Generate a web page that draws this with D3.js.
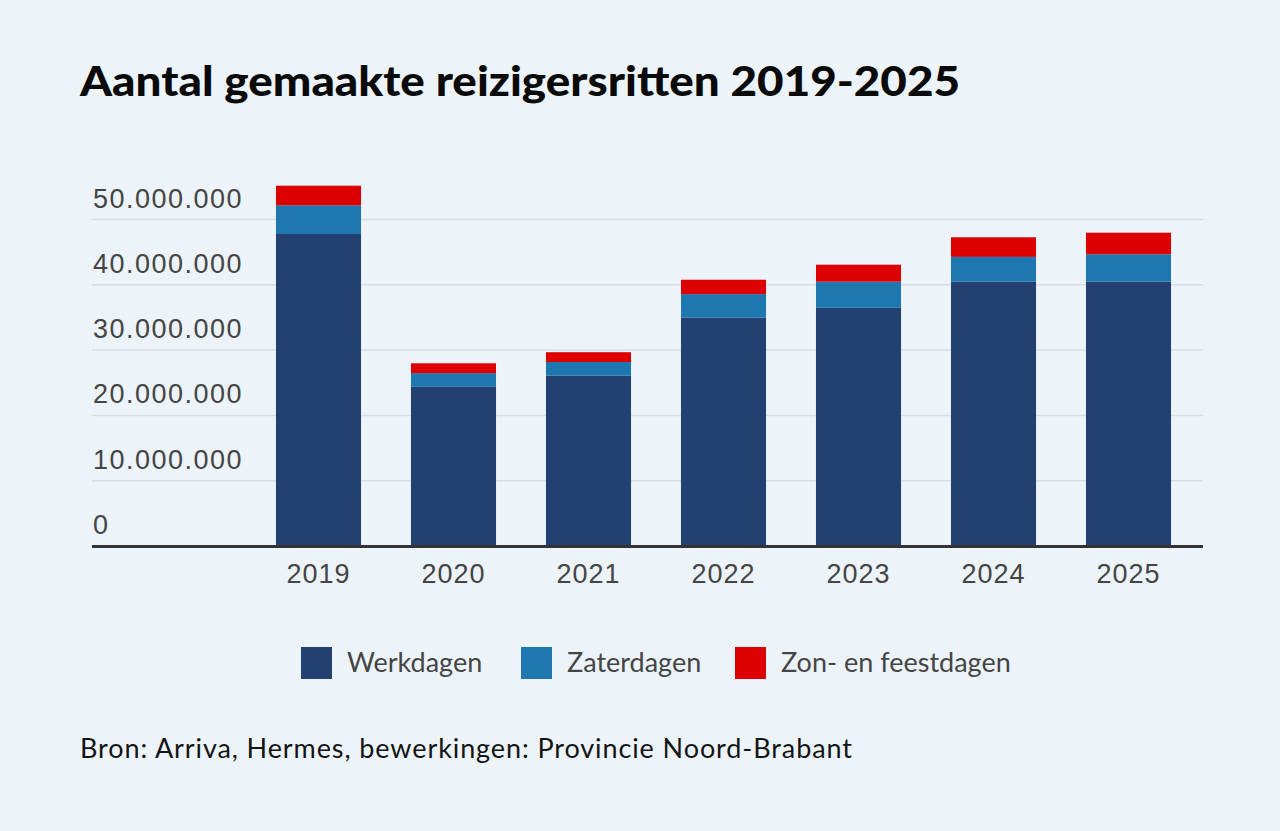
<!DOCTYPE html>
<html>
<head>
<meta charset="utf-8">
<script src="https://cdn.jsdelivr.net/npm/d3@7"></script>
<style>
  html, body { margin: 0; padding: 0; background: #ecf4fa; }
  svg { display: block; font-family: Lato, "Noto Sans", sans-serif; }
  .grid line { stroke: #d6dee6; stroke-width: 1.5; }
  .tick text { fill: #454545; font-size: 27px; }
  .grid .tick text { letter-spacing: 1.5px; }
</style>
</head>
<body>
<div id="chart"></div>
<script>
// data
const years = ['2019', '2020', '2021', '2022', '2023', '2024', '2025'];
const werkdagen = [47700000, 24300000, 26000000, 34900000, 36400000, 40400000, 40400000];
const zaterdagen = [4400000, 2100000, 2100000, 3600000, 4000000, 3800000, 4200000];
const zonFeestdagen = [3000000, 1500000, 1500000, 2200000, 2600000, 3000000, 3300000];
const seriesNames = ['Werkdagen', 'Zaterdagen', 'Zon- en feestdagen'];
const yTicks = [0, 10000000, 20000000, 30000000, 40000000, 50000000];

const width = 1280;
const height = 831;
const gridLeft = 92;
const gridRight = 1203;
const baseY = 545.5;
const topY = 219;
const colors = ['#234170', '#1f77b0', '#dc0000'];

const nl = d3.formatLocale({ decimal: ',', thousands: '.', grouping: [3], currency: ['€', ''] });
const fmt = nl.format(',d');

const rows = years.map((y, i) => ({
    year: y,
    Werkdagen: werkdagen[i],
    Zaterdagen: zaterdagen[i],
    'Zon- en feestdagen': zonFeestdagen[i]
}));
const stacked = d3.stack().keys(seriesNames)(rows);

// scales
const x = d3.scaleBand()
    .domain(years)
    .range([251, 1196])
    .paddingInner(0.37)
    .paddingOuter(0.185);
const y = d3.scaleLinear()
    .domain([0, 50000000])
    .range([baseY, topY]);

const svg = d3.select('#chart').append('svg')
    .attr('width', width)
    .attr('height', height);

svg.append('rect')
    .attr('width', width)
    .attr('height', height)
    .attr('fill', '#ecf4fa');

// title
svg.append('text')
    .attr('x', 80)
    .attr('y', 96)
    .attr('font-size', 41)
    .attr('font-weight', 900)
    .attr('fill', '#0a0a0a')
    .attr('textLength', 880)
    .attr('lengthAdjust', 'spacingAndGlyphs')
    .text('Aantal gemaakte reizigersritten 2019-2025');

// y axis + grid
const yAxis = d3.axisRight(y)
    .tickValues(yTicks)
    .tickSize(gridRight - gridLeft)
    .tickFormat(fmt);
const gy = svg.append('g')
    .attr('class', 'grid')
    .attr('transform', `translate(${gridLeft},0)`)
    .call(yAxis);
gy.select('.domain').remove();
gy.selectAll('.tick text')
    .attr('x', 1)
    .attr('dy', -12)
    .attr('text-anchor', 'start');

// bars
svg.append('g')
    .selectAll('g')
    .data(stacked)
    .enter()
    .append('g')
    .attr('fill', (d, i) => colors[i])
    .selectAll('rect')
    .data((d) => d)
    .enter()
    .append('rect')
    .attr('x', (d) => x(d.data.year))
    .attr('width', x.bandwidth())
    .attr('y', (d) => y(d[1]))
    .attr('height', (d) => y(d[0]) - y(d[1]));

// baseline
svg.append('line')
    .attr('x1', gridLeft)
    .attr('x2', gridRight)
    .attr('y1', baseY + 1)
    .attr('y2', baseY + 1)
    .attr('stroke', '#333')
    .attr('stroke-width', 3);

// x axis
const gx = svg.append('g')
    .attr('transform', `translate(0,${baseY})`)
    .call(d3.axisBottom(x).tickSize(0).tickPadding(18));
gx.select('.domain').remove();
gx.selectAll('.tick text')
    .attr('dy', '0.71em')
    .attr('letter-spacing', '1px');

// legend
const legendX = [301, 521, 735];
const legend = svg.append('g')
    .selectAll('g')
    .data(seriesNames)
    .enter()
    .append('g')
    .attr('transform', (d, i) => `translate(${legendX[i]},647)`);
legend.append('rect')
    .attr('width', 31)
    .attr('height', 32)
    .attr('fill', (d, i) => colors[i]);
legend.append('text')
    .attr('x', 46)
    .attr('y', 25)
    .attr('font-size', 27)
    .attr('fill', '#454545')
    .text((d) => d);

// source
svg.append('text')
    .attr('x', 80)
    .attr('y', 758)
    .attr('font-size', 27)
    .attr('letter-spacing', '0.9px')
    .attr('fill', '#141414')
    .text('Bron: Arriva, Hermes, bewerkingen: Provincie Noord-Brabant');
</script>
</body>
</html>
